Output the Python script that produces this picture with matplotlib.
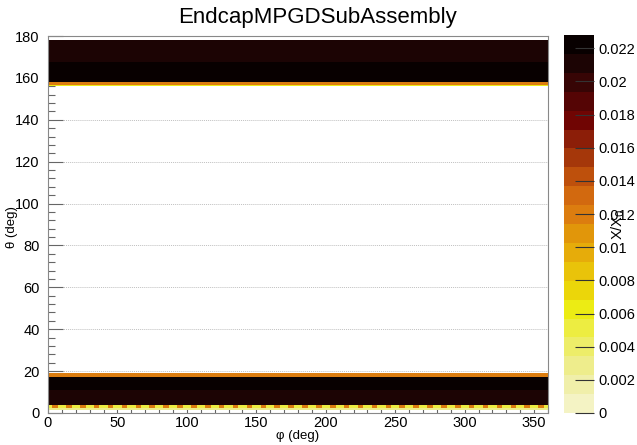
import numpy as np
import matplotlib
matplotlib.use("Agg")
import matplotlib.pyplot as plt
from matplotlib.colors import ListedColormap, BoundaryNorm
from matplotlib.ticker import MultipleLocator

plt.rcParams['font.family'] = ['Liberation Sans', 'DejaVu Sans']

title = "EndcapMPGDSubAssembly"
x_label = "φ (deg)"
y_label = "θ (deg)"
z_label = "X/X$_0$"

# θ bands (deg) uniform in φ: lower edge, upper edge, X/X0
band_lo = [1.6, 3.6, 11.0, 17.0, 155.9, 156.7, 158.0, 167.5]
band_hi = [2.6, 11.0, 17.0, 19.0, 156.7, 158.0, 167.5, 178.0]
band_val = [0.0030, 0.0214, 0.0225, 0.0118, 0.0065, 0.0118, 0.0225, 0.0214]

# segmented row near θ≈3° : repeating 10° sector structure
seg_theta = [2.6, 3.6]
n_sectors = 36
sector_width = 10.0
sector_sub_edges = [0.0, 3.0, 7.0, 10.0]
sector_sub_vals = [0.0055, 0.0118, 0.0055]

zmax = 0.0228
n_levels = 20
level_colors = [
    (244, 243, 196), (240, 239, 170), (238, 237, 140), (237, 237, 105),
    (237, 237, 65), (236, 236, 20), (235, 214, 10), (233, 195, 10),
    (230, 172, 10), (225, 150, 10), (220, 125, 15), (210, 105, 15),
    (190, 80, 12), (165, 55, 10), (140, 30, 8), (112, 5, 3),
    (85, 5, 5), (55, 5, 5), (28, 4, 4), (8, 0, 0),
]
cbar_ticks = [0, 0.002, 0.004, 0.006, 0.008, 0.01, 0.012, 0.014, 0.016,
              0.018, 0.02, 0.022]
cbar_ticklabels = ["0", "0.002", "0.004", "0.006", "0.008", "0.01", "0.012",
                   "0.014", "0.016", "0.018", "0.02", "0.022"]

# ---- build histogram grid ----
theta_edges = sorted(set([0.0, 180.0] + band_lo + band_hi + seg_theta))
phi_edges = sorted(set(k * sector_width + e for k in range(n_sectors)
                       for e in sector_sub_edges))
theta_edges = np.array(theta_edges)
phi_edges = np.array(phi_edges)
tc = 0.5 * (theta_edges[:-1] + theta_edges[1:])
pc = 0.5 * (phi_edges[:-1] + phi_edges[1:])
Z = np.zeros((len(tc), len(pc)))
for i, t in enumerate(tc):
    for lo, hi, v in zip(band_lo, band_hi, band_val):
        if lo <= t < hi:
            Z[i, :] = v
    if seg_theta[0] <= t < seg_theta[1]:
        for j, p in enumerate(pc):
            loc = p % sector_width
            for k in range(len(sector_sub_vals)):
                if sector_sub_edges[k] <= loc < sector_sub_edges[k + 1]:
                    Z[i, j] = sector_sub_vals[k]
Zm = np.ma.masked_where(Z <= 0, Z)

cmap = ListedColormap([tuple(c / 255 for c in rgb) for rgb in level_colors])
levels = np.linspace(0, zmax, n_levels + 1)
norm = BoundaryNorm(levels, cmap.N)

W, H = 637, 445
fig = plt.figure(figsize=(W / 100, H / 100), dpi=100)
ax = fig.add_axes([48 / W, 1 - 413 / H, 500 / W, 377 / H])
ax.pcolormesh(phi_edges, theta_edges, Zm, cmap=cmap, norm=norm, zorder=2)
ax.set_xlim(0, 360)
ax.set_ylim(0, 180)
ax.xaxis.set_major_locator(MultipleLocator(50))
ax.xaxis.set_minor_locator(MultipleLocator(10))
ax.yaxis.set_major_locator(MultipleLocator(20))
ax.yaxis.set_minor_locator(MultipleLocator(4))
ax.grid(axis='y', which='major', linestyle=(0, (1, 1)), color='#c0c0c0',
        linewidth=0.7, zorder=1)
ax.set_axisbelow(True)
ax.tick_params(axis='both', which='both', direction='in', top=False,
               right=False, colors='#666666', labelcolor='black',
               labelsize=10.5, width=0.8, zorder=3)
ax.tick_params(axis='y', which='major', length=11, pad=6)
ax.tick_params(axis='y', which='minor', length=5)
ax.tick_params(axis='x', which='major', length=8, pad=2)
ax.tick_params(axis='x', which='minor', length=4)
for s in ax.spines.values():
    s.set_color('#888888')
    s.set_linewidth(0.8)
    s.set_zorder(4)

fig.text(318 / W, 1 - 18 / H, title, ha='center', va='center', fontsize=16)
fig.text(298 / W, 1 - 436 / H, x_label, ha='center', va='center', fontsize=9.5)
fig.text(12 / W, 1 - 227 / H, y_label, ha='center', va='center',
         rotation=90, fontsize=9.5)

cax = fig.add_axes([564 / W, 1 - 413 / H, 30 / W, 378 / H])
sm = plt.cm.ScalarMappable(norm=norm, cmap=cmap)
cb = fig.colorbar(sm, cax=cax, ticks=cbar_ticks)
cb.ax.set_yticklabels(cbar_ticklabels)
cb.outline.set_visible(False)
cax.tick_params(axis='y', which='major', direction='in', length=14, width=0.8,
                colors='#333333', labelcolor='black', labelsize=10.5, pad=3)
cax.tick_params(axis='y', which='minor', length=0)
fig.text(618 / W, 1 - 224 / H, z_label, ha='center', va='center',
         rotation=90, fontsize=10.5)

fig.savefig("out.png", dpi=100)
